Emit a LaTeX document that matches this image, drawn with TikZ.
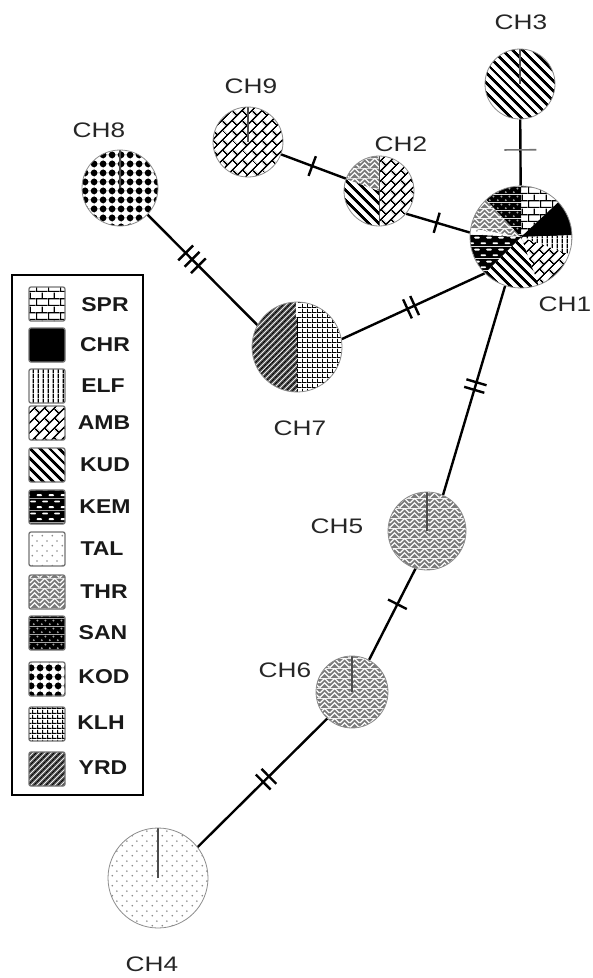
\documentclass[tikz,border=0pt]{standalone}
\usepackage{fontspec}
\setmainfont{Liberation Sans}
\newfontfamily\labfont[FakeStretch=1.25]{Liberation Sans}
\newfontfamily\legfont[FakeStretch=1.15]{Liberation Sans}
\usetikzlibrary{patterns.meta,backgrounds}

\tikzdeclarepattern{name=pSPR, type=colored,
  bottom left={(0pt,0pt)}, top right={(12pt,14pt)}, tile size={(12pt,14pt)},
  code={\fill[white] (0pt,0pt) rectangle (12pt,14pt);
    \draw[black,line width=1.3pt] (0pt,0.65pt)--(12pt,0.65pt) (0pt,7.65pt)--(12pt,7.65pt)
      (0.65pt,0.65pt)--(0.65pt,7.65pt) (6.65pt,7.65pt)--(6.65pt,14pt);}}
\tikzdeclarepattern{name=pELF, type=colored,
  bottom left={(0pt,0pt)}, top right={(5.2pt,5pt)}, tile size={(5.2pt,5pt)},
  code={\fill[white] (0pt,0pt) rectangle (5.2pt,5pt);
    \draw[black,line width=1.5pt] (2.6pt,0pt)--(2.6pt,5pt);}}
\tikzdeclarepattern{name=pAMB, type=colored,
  bottom left={(0pt,0pt)}, top right={(14pt,14pt)}, tile size={(14pt,14pt)},
  tile transformation={rotate=45},
  code={\fill[white] (0pt,0pt) rectangle (14pt,14pt);
    \draw[black,line width=1.6pt] (0pt,0.8pt)--(14pt,0.8pt) (0pt,7.8pt)--(14pt,7.8pt)
      (0.8pt,0.8pt)--(0.8pt,7.8pt) (7.8pt,7.8pt)--(7.8pt,14pt);}}
\tikzdeclarepattern{name=pKUD, type=colored,
  bottom left={(0pt,0pt)}, top right={(7pt,7pt)}, tile size={(7pt,7pt)},
  tile transformation={rotate=-45},
  code={\fill[white] (0pt,0pt) rectangle (7pt,7pt);
    \draw[black,line width=2.9pt] (0pt,3.5pt)--(7pt,3.5pt);}}
\tikzdeclarepattern{name=pKEM, type=colored,
  bottom left={(0pt,0pt)}, top right={(12pt,12pt)}, tile size={(12pt,12pt)},
  code={\fill[black] (0pt,0pt) rectangle (12pt,12pt);
    \draw[white,line width=2pt,line cap=round] (1.5pt,3pt)--(5.5pt,3pt) (7.5pt,9pt)--(11.5pt,9pt);}}
\tikzdeclarepattern{name=pTAL, type=colored,
  bottom left={(0pt,0pt)}, top right={(10pt,10pt)}, tile size={(10pt,10pt)},
  code={\fill[white] (0pt,0pt) rectangle (10pt,10pt);
    \fill[black!45] (2.5pt,2.5pt) circle[radius=1pt] (7.5pt,7.5pt) circle[radius=1pt];}}
\tikzdeclarepattern{name=pTHR, type=colored,
  bottom left={(0pt,0pt)}, top right={(10pt,10pt)}, tile size={(10pt,10pt)},
  code={\fill[black!52] (0pt,0pt) rectangle (10pt,10pt);
    \draw[white,line width=1.3pt] (0pt,0.5pt)--(5pt,5.5pt)--(10pt,0.5pt) (0pt,5.5pt)--(5pt,10.5pt)--(10pt,5.5pt);}}
\tikzdeclarepattern{name=pSAN, type=colored,
  bottom left={(0pt,0pt)}, top right={(8pt,8pt)}, tile size={(8pt,8pt)},
  code={\fill[black] (0pt,0pt) rectangle (8pt,8pt);
    \fill[black!35] (2pt,2pt) circle[radius=1.2pt] (6pt,6pt) circle[radius=1.2pt];}}
\tikzdeclarepattern{name=pKOD, type=colored,
  bottom left={(0pt,0pt)}, top right={(9pt,9pt)}, tile size={(9pt,9pt)},
  code={\fill[white] (0pt,0pt) rectangle (9pt,9pt);
    \draw[black!60,line width=0.6pt] (4.5pt,0pt)--(4.5pt,9pt) (0pt,4.5pt)--(9pt,4.5pt);
    \fill[black] (4.5pt,4.5pt) circle[radius=3.7pt];}}
\tikzdeclarepattern{name=pKLH, type=colored,
  bottom left={(0pt,0pt)}, top right={(4.5pt,4.5pt)}, tile size={(4.5pt,4.5pt)},
  code={\fill[white] (0pt,0pt) rectangle (4.5pt,4.5pt);
    \draw[black,line width=1.1pt] (0.55pt,0pt)--(0.55pt,4.5pt) (0pt,0.55pt)--(4.5pt,0.55pt);}}
\tikzdeclarepattern{name=pYRD, type=colored,
  bottom left={(0pt,0pt)}, top right={(4.5pt,4.5pt)}, tile size={(4.5pt,4.5pt)},
  tile transformation={rotate=45},
  code={\fill[black!55] (0pt,0pt) rectangle (4.5pt,4.5pt);
    \draw[black,line width=1.5pt] (0pt,2.25pt)--(4.5pt,2.25pt);}}

% pie helpers
\newcommand{\psl}[3]{\fill[#3] (0,0) -- (#1:70) arc[start angle=#1,end angle=#2,radius=70] -- cycle;}
\newcommand{\pie}[1]{\begin{scope}[shift={(path picture bounding box.center)},x=1pt,y=1pt]#1\end{scope}}
\newcommand{\upline}[1]{\draw[black!70,line width=1.1pt] (0,0) -- (0,#1);}

\begin{document}
\begin{tikzpicture}[x=1pt,y=-1pt,
  hap/.style={circle, draw=black!45, line width=0.8pt, inner sep=0pt, minimum size=#1},
  conn/.style={draw=black, line width=2.4pt},
  tickbar/.style={rectangle, fill=black, inner sep=0pt, minimum width=2.4pt, minimum height=21pt, sloped},
  tickgray/.style={rectangle, fill=black!55, inner sep=0pt, minimum width=1.6pt, minimum height=32pt, sloped},
  lab/.style={inner sep=0pt, text=black!85, font=\labfont\fontsize{21}{21}\selectfont},
  swatch/.style={rectangle, draw=black!55, line width=1.3pt, rounded corners=2pt, minimum width=36pt, minimum height=34pt, inner sep=0pt},
  legtext/.style={inner sep=0pt, text=black!90, font=\legfont\bfseries\fontsize{20}{20}\selectfont}]
\useasboundingbox (0,0) rectangle (593,978);

% haplotype circles
\node[hap=102pt, path picture={\pie{
   \psl{90}{43}{pattern=pSPR}
   \psl{43}{2}{fill=black}
   \psl{2}{-20}{pattern=pELF}
   \psl{-20}{-70}{pattern=pAMB}
   \psl{-70}{-135}{pattern=pKUD}
   \psl{-135}{-183}{pattern=pKEM}
   \psl{-183}{-190}{pattern=pTAL}
   \psl{-190}{-227}{pattern=pTHR}
   \psl{-227}{-270}{pattern=pSAN}}}] (ch1) at (521,237) {};
\node[hap=70pt, path picture={\pie{
   \psl{90}{-90}{pattern=pAMB}
   \psl{-90}{-200}{pattern=pKUD}
   \psl{-200}{-270}{pattern=pTHR}
   \draw[black!70,line width=0.8pt] (0,-36) -- (0,36);}}] (ch2) at (379,191) {};
\node[hap=70pt, path picture={\pie{\psl{0}{360}{pattern=pKUD}\upline{36}}}] (ch3) at (520,84) {};
\node[hap=100pt, path picture={\pie{\psl{0}{360}{pattern=pTAL}\upline{51}}}] (ch4) at (158,878) {};
\node[hap=78pt, path picture={\pie{\psl{0}{360}{pattern=pTHR}\upline{40}}}] (ch5) at (427,531) {};
\node[hap=72pt, path picture={\pie{\psl{0}{360}{pattern=pTHR}\upline{37}}}] (ch6) at (352,692) {};
\node[hap=90pt, path picture={\pie{
   \psl{90}{-90}{pattern=pKLH}
   \psl{-90}{-270}{pattern=pYRD}
   \draw[black,line width=1pt] (0,0) -- (0,30);
   \draw[white,line width=2pt] (0,30) -- (0,46);}}] (ch7) at (297,347) {};
\node[hap=76pt, path picture={\pie{\psl{0}{360}{pattern=pKOD}\upline{39}}}] (ch8) at (120,188) {};
\node[hap=70pt, path picture={\pie{\psl{0}{360}{pattern=pAMB}\upline{36}}}] (ch9) at (248,142) {};

% connectors with mutation ticks
\begin{scope}[on background layer]
\path[conn] (ch3) -- (ch1) node[tickgray, pos=.46] (k1) {};
\path[conn] (ch9) -- (ch2) node[tickbar, pos=.48] (k2) {};
\path[conn] (ch2.-40) -- (ch1.175) node[tickbar, pos=.48] (k3) {};
\path[conn] (ch8.-44) -- (ch7.151)
   node[tickbar, pos=.347] (k4a) {} node[tickbar, pos=.405] (k4b) {} node[tickbar, pos=.463] (k4c) {};
\path[conn] (ch7.10) -- (ch1.225)
   node[tickbar, pos=.46] (k5a) {} node[tickbar, pos=.51] (k5b) {};
\path[conn] (ch1.-108) -- (ch5.66)
   node[tickbar, pos=.461] (k6a) {} node[tickbar, pos=.497] (k6b) {};
\path[conn] (ch5.-107) -- (ch6.62) node[tickbar, pos=.39] (k7) {};
\path[conn] (ch6.-133) -- (ch4.38)
   node[tickbar, pos=.45] (k8a) {} node[tickbar, pos=.494] (k8b) {};
\end{scope}

% haplotype labels
\node[lab] (l1) at (565,304) {CH1};
\node[lab] (l2) at (401,144) {CH2};
\node[lab] (l3) at (521,22) {CH3};
\node[lab] (l4) at (152,964) {CH4};
\node[lab] (l5) at (337,526) {CH5};
\node[lab] (l6) at (285,670) {CH6};
\node[lab] (l7) at (300,428) {CH7};
\node[lab] (l8) at (99,130) {CH8};
\node[lab] (l9) at (251,86) {CH9};

% legend
\node[draw=black, line width=2pt, minimum width=131pt, minimum height=520pt, inner sep=0pt] (legend) at (77.5,535) {};
\node[swatch, pattern=pSPR] (sSPR) at (47,304) {};
\node[swatch, fill=black] (sCHR) at (47,345) {};
\node[swatch, pattern=pELF] (sELF) at (47,386) {};
\node[swatch, pattern=pAMB] (sAMB) at (47,423) {};
\node[swatch, pattern=pKUD] (sKUD) at (47,465) {};
\node[swatch, pattern=pKEM] (sKEM) at (47,507) {};
\node[swatch, pattern=pTAL] (sTAL) at (47,549) {};
\node[swatch, pattern=pTHR] (sTHR) at (47,592) {};
\node[swatch, pattern=pSAN] (sSAN) at (47,633) {};
\node[swatch, pattern=pKOD] (sKOD) at (47,679) {};
\node[swatch, pattern=pKLH] (sKLH) at (47,724) {};
\node[swatch, pattern=pYRD] (sYRD) at (47,769) {};
\node[legtext] (tSPR) at (105,305) {SPR};
\node[legtext] (tCHR) at (105,345) {CHR};
\node[legtext] (tELF) at (103,386) {ELF};
\node[legtext] (tAMB) at (104,423) {AMB};
\node[legtext] (tKUD) at (105,465) {KUD};
\node[legtext] (tKEM) at (105,507) {KEM};
\node[legtext] (tTAL) at (102,549) {TAL};
\node[legtext] (tTHR) at (104,592) {THR};
\node[legtext] (tSAN) at (103,633) {SAN};
\node[legtext] (tKOD) at (104,677) {KOD};
\node[legtext] (tKLH) at (101,723) {KLH};
\node[legtext] (tYRD) at (103,768) {YRD};
\end{tikzpicture}
\end{document}
